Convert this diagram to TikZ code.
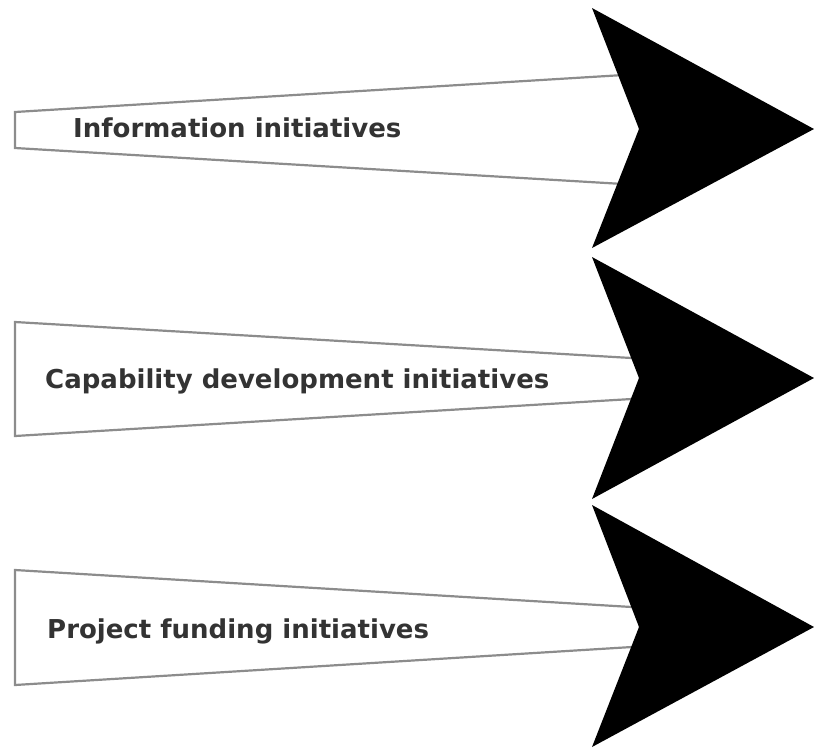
\documentclass[tikz,border=0pt]{standalone}
\usepackage{fontspec}
\setmainfont{DejaVu Sans}
\begin{document}
\begin{tikzpicture}[x=1pt,y=-1pt,
  panel/.style={draw=black!45, line width=2.2pt, fill=white, line join=miter},
  chevron/.style={fill=black},
  label/.style={anchor=base west, inner sep=0pt, text=black!80,
    font=\fontsize{26}{30}\selectfont\bfseries}]
  \useasboundingbox (0,0) rectangle (814,748);

  % tapered panels behind the arrow heads
  \draw[panel] (15,112) -- (640,74) -- (640,185) -- (15,148) -- cycle;
  \draw[panel] (15,322) -- (640,358.5) -- (640,398.5) -- (15,436) -- cycle;
  \draw[panel] (15,570) -- (640,607.5) -- (640,646.5) -- (15,685) -- cycle;

  % black arrow heads
  \fill[chevron] (592,8)   -- (814,129) -- (592,248) -- (639,129) -- cycle;
  \fill[chevron] (592,257) -- (814,378) -- (592,499) -- (639,378) -- cycle;
  \fill[chevron] (592,505) -- (814,627) -- (592,747) -- (639,627) -- cycle;

  % labels
  \node[label] (info) at (73,137) {Information initiatives};
  \node[label] (capa) at (45,388) {Capability development initiatives};
  \node[label] (fund) at (47,638) {Project funding initiatives};
\end{tikzpicture}
\end{document}
